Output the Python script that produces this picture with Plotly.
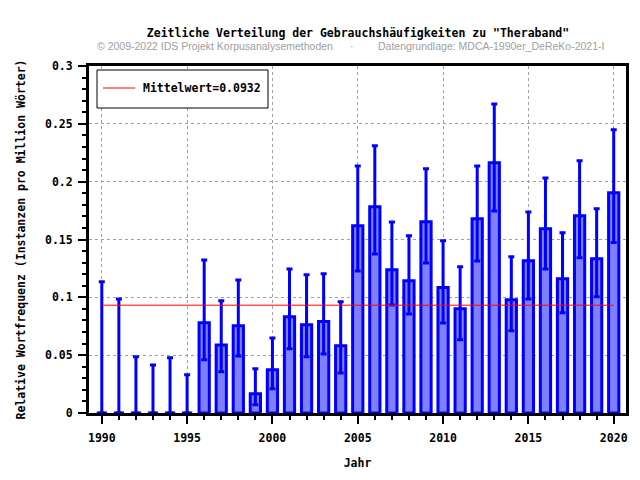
import plotly.graph_objects as go

years = list(range(1990, 2021))
freq = [0, 0, 0, 0, 0, 0,
        0.0781, 0.0588, 0.0755, 0.0167, 0.0374, 0.0833, 0.0764, 0.0790, 0.0582,
        0.1619, 0.1784, 0.1239, 0.1144, 0.1654, 0.1084, 0.0902, 0.1680, 0.2164,
        0.0980, 0.1317, 0.1594, 0.1161, 0.1706, 0.1334, 0.1905]
upper = [0.1135, 0.0986, 0.0487, 0.0415, 0.0478, 0.0331,
         0.1323, 0.0971, 0.1150, 0.0383, 0.0648, 0.1245, 0.1196, 0.1204, 0.0962,
         0.2135, 0.2311, 0.1651, 0.1533, 0.2112, 0.1490, 0.1265, 0.2135, 0.2671,
         0.1351, 0.1738, 0.2032, 0.1559, 0.2181, 0.1766, 0.2449]
lower = [0, 0, 0, 0, 0, 0,
         0.0461, 0.0357, 0.0493, 0.0072, 0.0210, 0.0556, 0.0487, 0.0510, 0.0346,
         0.1228, 0.1375, 0.0934, 0.0856, 0.1297, 0.0778, 0.0634, 0.1314, 0.1746,
         0.0712, 0.0986, 0.1245, 0.0867, 0.1343, 0.1006, 0.1473]
mean_value = 0.0932
legend_label = f"Mittelwert={mean_value}"

err_plus = [u - f for u, f in zip(upper, freq)]
err_minus = [f - l for f, l in zip(freq, lower)]

MONO = "DejaVu Sans Mono"
BLUE = "#0000ff"

fig = go.Figure()

fig.add_trace(go.Scatter(
    x=[years[0], years[-1]], y=[mean_value, mean_value],
    mode="lines", line=dict(color="#ff0000", width=1),
    name=legend_label, showlegend=False,
))

fig.add_trace(go.Bar(
    x=years, y=freq, width=0.6,
    marker=dict(color="#8080ff", line=dict(color=BLUE, width=3)),
    error_y=dict(type="data", symmetric=False, array=err_plus, arrayminus=err_minus,
                 color=BLUE, thickness=3, width=3),
    showlegend=False,
))

axis_font = dict(family=MONO, size=11.5, color="black", weight="bold")

# plot area in pixels
pl, pr, pt, pb = 89, 14, 66, 67
pw, ph = 640 - pl - pr, 480 - pt - pb


def px_x(x):
    return (x - pl) / pw


def px_y(y):
    return (pt + ph - y) / ph


fig.update_layout(
    width=640, height=480,
    margin=dict(l=pl, r=pr, t=pt, b=pb, autoexpand=False),
    plot_bgcolor="white", paper_bgcolor="white",
    title=dict(text='Zeitliche Verteilung der Gebrauchshäufigkeiten zu "Theraband"',
               x=358 / 640, xanchor="center", xref="container",
               y=1 - 33 / 480, yanchor="middle", yref="container",
               font=dict(family=MONO, size=11.5, color="black", weight="bold")),
    showlegend=False,
    xaxis=dict(range=[1989.25, 2020.72], tickmode="linear", tick0=1990, dtick=5,
               ticks="outside", ticklen=8, tickwidth=2, tickcolor="black",
               minor=dict(dtick=1, tick0=1990, ticks="outside", ticklen=4, tickwidth=2,
                          tickcolor="black", showgrid=False),
               showgrid=True, gridcolor="#a0a0a0", griddash="dot", gridwidth=1,
               showline=True, linecolor="black", linewidth=3, mirror=True,
               zeroline=False, tickfont=axis_font, automargin=False,
               ticklabelstandoff=4,
               title=dict(text="Jahr", font=axis_font, standoff=16)),
    yaxis=dict(range=[0, 0.3], tickmode="linear", tick0=0, dtick=0.05,
               ticks="outside", ticklen=8, tickwidth=2, tickcolor="black",
               minor=dict(dtick=0.01, tick0=0, ticks="outside", ticklen=4, tickwidth=2,
                          tickcolor="black", showgrid=False),
               showgrid=True, gridcolor="#a0a0a0", griddash="dot", gridwidth=1,
               showline=True, linecolor="black", linewidth=3, mirror=True,
               zeroline=False, tickfont=axis_font, tickformat="~g", automargin=False,
               ticklabelstandoff=3,
               title=dict(text="Relative Wortfrequenz (Instanzen pro Million Wörter)",
                          font=axis_font, standoff=17)),
)

# manual legend box
fig.add_shape(type="rect", xref="paper", yref="paper",
              x0=px_x(97), x1=px_x(268), y0=px_y(108), y1=px_y(70),
              fillcolor="white", line=dict(color="black", width=1), layer="above")
fig.add_shape(type="line", xref="paper", yref="paper",
              x0=px_x(103), x1=px_x(135), y0=px_y(88), y1=px_y(88),
              line=dict(color="#ff0000", width=1), layer="above")
fig.add_annotation(text=legend_label, x=px_x(141), y=px_y(88), xref="paper", yref="paper",
                   showarrow=False, xanchor="left", yanchor="middle", font=axis_font)

sub_font = dict(family="Liberation Sans", size=10.5, color="#a0a0a0")
subtitle = [
    ("© 2009-2022 IDS Projekt Korpusanalysemethoden", 95, "left"),
    ("·", 352, "center"),
    ("Datengrundlage: MDCA-1990er_DeReKo-2021-I", 376, "left"),
]
for text, px, anchor in subtitle:
    fig.add_annotation(text=text, x=px_x(px), y=px_y(46),
                       xref="paper", yref="paper", showarrow=False,
                       xanchor=anchor, yanchor="middle", font=sub_font)

fig.write_html("out.html", config={"displayModeBar": False},
               post_script="document.body.style.margin='0';")
